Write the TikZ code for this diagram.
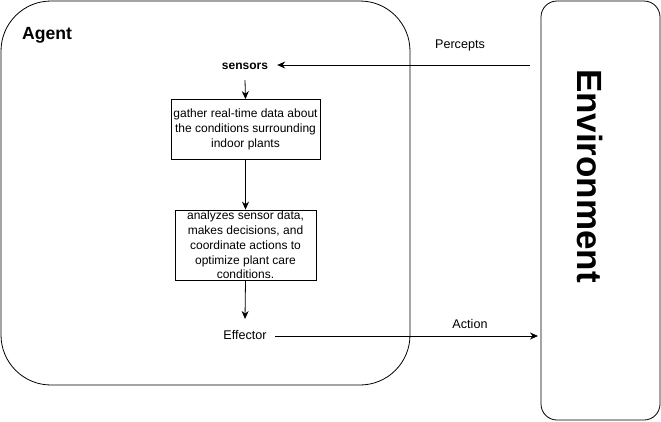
\documentclass[tikz,border=0pt]{standalone}
\usepackage{fontspec}
\setmainfont{Liberation Sans}
\usetikzlibrary{arrows.meta}
\begin{document}
\begin{tikzpicture}[x=1pt,y=-1pt,
  conn/.style={draw,line width=0.8pt,-{Stealth[length=8pt,width=7pt]}},
  procbox/.style={draw,line width=0.8pt,minimum width=#1,align=center,inner sep=0pt,font=\fontsize{12}{14.8}\selectfont},
  lbl/.style={inner sep=1pt,font=\fontsize{12.6}{15}\selectfont},
  blbl/.style={inner sep=1pt,font=\bfseries\fontsize{12}{14}\selectfont}]
\useasboundingbox (0,0) rectangle (661,421);
% Agent container
\draw[line width=0.8pt,rounded corners=50pt] (1,1) rectangle (410,385);
\node[anchor=west,inner sep=0pt,font=\bfseries\fontsize{17.6}{20}\selectfont] (agent) at (22,35) {Agent};
% Environment container
\draw[line width=0.8pt,rounded corners=16pt] (541,1) rectangle (660,420);
\node[rotate=-90,inner sep=0pt,font=\bfseries\fontsize{35}{40}\selectfont] (env) at (590,176) {Environment};
% Nodes
\node[blbl] (sensors) at (245,66) {sensors};
\node[procbox=149pt,minimum height=60pt] (gather) at (245.5,129.5) {gather real-time data about\\the conditions surrounding\\indoor plants};
\node[procbox=141pt,minimum height=70pt] (analyze) at (245.5,245) {analyzes sensor data,\\makes decisions, and\\coordinate actions to\\optimize plant care\\conditions.};
\node[lbl] (effector) at (245,335) {Effector};
\node[lbl] (percepts) at (460,45) {Percepts};
\node[lbl] (action) at (470,324) {Action};
\coordinate (pin) at (530,65);
\coordinate (aout) at (538,336);
% Connectors
\draw[conn] (pin) -- ([xshift=8pt]sensors.east |- pin);
\draw[conn] (245,80) -- (gather.north);
\draw[conn] (gather.south) -- (analyze.north);
\draw[conn] (analyze.south) -- (245,319);
\draw[conn] ([xshift=7pt]effector.east |- aout) -- (aout);
\end{tikzpicture}
\end{document}
